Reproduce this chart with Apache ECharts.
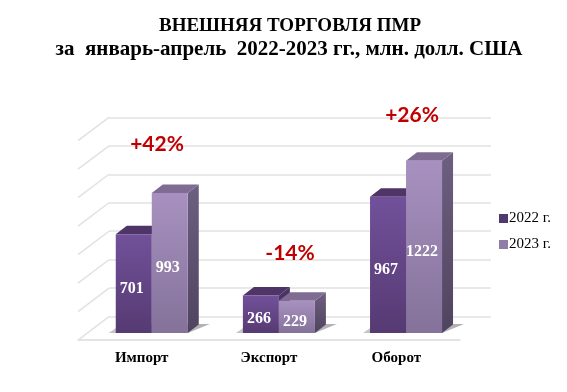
<!DOCTYPE html>
<html><head><meta charset="utf-8">
<style>html,body{margin:0;padding:0;background:#fff}#c{width:567px;height:392px}</style>
<script src="https://cdn.jsdelivr.net/npm/echarts@6/dist/echarts.min.js"></script>
</head><body><div id="c"></div>
<script>
const categories = ['Импорт', 'Экспорт', 'Оборот'];
const values2022 = [701, 266, 967];
const values2023 = [993, 229, 1222];
const wallTicks = [0, 200, 400, 600, 800, 1000, 1200, 1400];
const seriesNames = ['2022 г.', '2023 г.'];
const titleLines = ['ВНЕШНЯЯ ТОРГОВЛЯ ПМР', 'за  январь-апрель  2022-2023 гг., млн. долл. США'];
const changeLabels = ['+42%', '-14%', '+26%'];

const DX = 11, DY = 8.5, SERIF = '"Liberation Serif","Times New Roman",serif';
const lin = (x, y, x2, y2, a, b) => new echarts.graphic.LinearGradient(x, y, x2, y2, [{offset:0,color:a},{offset:1,color:b}]);
const palettes = [
  {front:['#71519a','#563a72'], top:'#4f3567', side:['#4f3567','#3f2a55'], legend:'#4f3a6e'},
  {front:['#a891c0','#84729a'], top:'#7e6c92', side:['#6d5f80','#4f4460'], legend:'#8f7da6'}
];
function barItem(si) {
  return function (params, api) {
    const p = palettes[si];
    const cat = api.value(0), val = api.value(1);
    const top = api.coord([cat, val]), base = api.coord([cat, 0]);
    const band = api.size([1, 0])[0];
    const w = band * 0.2832;
    const x0 = top[0] + (si === 0 ? -w : 0), x1 = x0 + w, yt = top[1], yb = base[1];
    const children = [];
    if (si === 0) {
      children.push({type:'polygon', shape:{points:[[x0-7,yb],[x1+w,yb],[x1+w+DX+11,yb-9],[x0+6,yb-9]]},
        style:{fill:lin(0,0,1,0,'rgba(150,150,150,0.55)','rgba(150,150,150,0.75)')}});
    }
    children.push(
      {type:'polygon', shape:{points:[[x1,yt],[x1+DX,yt-DY],[x1+DX,yb-DY],[x1,yb]]}, style:{fill:lin(0,0,0,1,p.side[0],p.side[1])}},
      {type:'polygon', shape:{points:[[x0,yt],[x1,yt],[x1+DX,yt-DY],[x0+DX,yt-DY]]}, style:{fill:p.top}},
      {type:'rect', shape:{x:x0,y:yt,width:w,height:yb-yt}, style:{fill:lin(0,0,0,1,p.front[0],p.front[1])}},
      {type:'text', style:{x:(x0+x1)/2-2, y:(yt+yb)/2+5, text:String(val), fill:'#fff', align:'center', verticalAlign:'middle',
        font:'bold 16px '+SERIF}, z2:10}
    );
    return {type:'group', children};
  };
}
const chart = echarts.init(document.getElementById('c'), null, {renderer:'canvas'});
chart.setOption({
  animation:false,
  backgroundColor:'#fff',
  grid:[
    {left:109, width:382, top:117.3, height:199.4},   // back wall
    {left:78, width:382, top:117.3, height:222.7},    // front floor edge and labels
    {left:88.2, width:381.4, top:135.6, height:197.4} // bars
  ],
  xAxis:[
    {gridIndex:0, type:'category', data:categories, show:false},
    {gridIndex:1, type:'category', data:categories, axisTick:{show:false},
      axisLine:{lineStyle:{color:'#dcdcdc',width:1.5}},
      axisLabel:{margin:11, color:'#000', fontFamily:SERIF, fontWeight:'bold', fontSize:15}},
    {gridIndex:2, type:'category', data:categories, show:false}
  ],
  yAxis:[
    {gridIndex:0, type:'value', min:0, max:1400, interval:200, axisLine:{show:false}, axisTick:{show:false},
      axisLabel:{show:false}, splitLine:{lineStyle:{color:'#e2e2e2',width:1.5}}},
    {gridIndex:1, type:'value', min:0, max:1400, show:false, splitLine:{show:false}},
    {gridIndex:2, type:'value', min:0, max:1400, show:false, splitLine:{show:false}}
  ],
  legend:{orient:'vertical', left:494, top:206, itemWidth:9, itemHeight:9, itemGap:11, icon:'rect',
    data:seriesNames, textStyle:{fontFamily:SERIF, fontSize:15, color:'#000', padding:[0,0,0,-4]}},
  series:[
    {type:'custom', xAxisIndex:0, yAxisIndex:0, silent:true, clip:false, z:1, data:wallTicks.map(v=>[v]),
      encode:{y:0},
      renderItem(params, api){
        const v = api.value(0);
        const pt = api.coord([0, v]);
        const x = params.coordSys.x;
        return {type:'line', shape:{x1:x, y1:pt[1], x2:x-31, y2:pt[1]+23.4}, style:{stroke:'#e2e2e2', lineWidth:1.5}};
      }},
    {name:seriesNames[0], type:'custom', xAxisIndex:2, yAxisIndex:2, clip:false, z:3,
      itemStyle:{color:palettes[0].legend}, data:values2022.map((v,i)=>[i,v]), renderItem:barItem(0), encode:{x:0,y:1}},
    {name:seriesNames[1], type:'custom', xAxisIndex:2, yAxisIndex:2, clip:false, z:4,
      itemStyle:{color:palettes[1].legend}, data:values2023.map((v,i)=>[i,v]), renderItem:barItem(1), encode:{x:0,y:1}}
  ],
  graphic:[
    {type:'text', x:290, y:26.5, style:{text:titleLines[0], align:'center', verticalAlign:'middle', font:'bold 19px '+SERIF, fill:'#000'}},
    {type:'text', x:289, y:50, style:{text:titleLines[1], align:'center', verticalAlign:'middle', font:'bold 21px '+SERIF, fill:'#000'}},
    ...[[157,144],[290,253],[412,115]].map((p,i)=>({type:'text', x:p[0], y:p[1], z:20,
      style:{text:changeLabels[i], align:'center', verticalAlign:'middle', font:'bold 21px Lato', fill:'#c00000'}}))
  ]
});
</script></body></html>
